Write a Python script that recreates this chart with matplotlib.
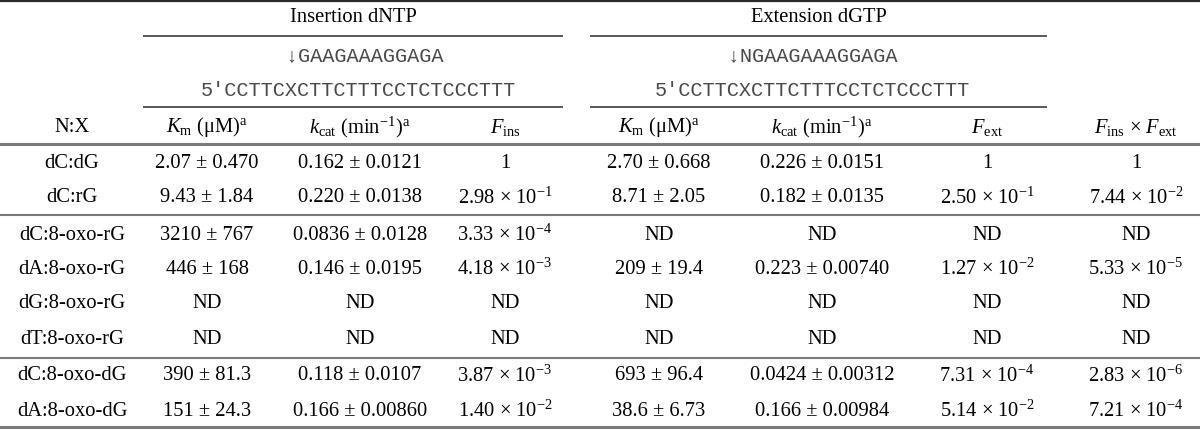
import matplotlib
matplotlib.use("Agg")
import matplotlib.pyplot as plt

plt.rcParams['font.family'] = ['Liberation Serif', 'DejaVu Serif']
plt.rcParams['mathtext.fontset'] = 'custom'
plt.rcParams['mathtext.rm'] = 'Liberation Serif'
plt.rcParams['mathtext.it'] = 'Liberation Serif:italic'
plt.rcParams['mathtext.default'] = 'rm'

# table contents
pairs = ['dC:dG', 'dC:rG', 'dC:8-oxo-rG', 'dA:8-oxo-rG', 'dG:8-oxo-rG',
         'dT:8-oxo-rG', 'dC:8-oxo-dG', 'dA:8-oxo-dG']
ins_km = ['2.07 ± 0.470', '9.43 ± 1.84', '3210 ± 767', '446 ± 168', 'ND', 'ND',
          '390 ± 81.3', '151 ± 24.3']
ins_kcat = ['0.162 ± 0.0121', '0.220 ± 0.0138', '0.0836 ± 0.0128', '0.146 ± 0.0195',
            'ND', 'ND', '0.118 ± 0.0107', '0.166 ± 0.00860']
f_ins = ['1', '2.98e-1', '3.33e-4', '4.18e-3', 'ND', 'ND', '3.87e-3', '1.40e-2']
ext_km = ['2.70 ± 0.668', '8.71 ± 2.05', 'ND', '209 ± 19.4', 'ND', 'ND',
          '693 ± 96.4', '38.6 ± 6.73']
ext_kcat = ['0.226 ± 0.0151', '0.182 ± 0.0135', 'ND', '0.223 ± 0.00740', 'ND', 'ND',
            '0.0424 ± 0.00312', '0.166 ± 0.00984']
f_ext = ['1', '2.50e-1', 'ND', '1.27e-2', 'ND', 'ND', '7.31e-4', '5.14e-2']
f_prod = ['1', '7.44e-2', 'ND', '5.33e-5', 'ND', 'ND', '2.83e-6', '7.21e-4']

headers = ['N:X', r'$\mathit{K}_{m}$ (μM)$^{a}$', r'$\mathit{k}_{cat}$ (min$^{-1}$)$^{a}$',
           r'$\mathit{F}_{ins}$', r'$\mathit{K}_{m}$ (μM)$^{a}$',
           r'$\mathit{k}_{cat}$ (min$^{-1}$)$^{a}$', r'$\mathit{F}_{ext}$',
           r'$\mathit{F}_{ins}$ × $\mathit{F}_{ext}$']
groups = ['Insertion dNTP', 'Extension dGTP']
primer_ins = '       ↓GAAGAAAGGAGA'
primer_ext = '      ↓NGAAGAAAGGAGA'
template = "5'CCTTCXCTTCTTTCCTCTCCCTTT"


def sci(s):
    """Turn '2.98e-1' into '2.98 × 10^-1' mathtext; leave other text alone."""
    if 'e' not in s:
        return s
    m, e = s.split('e')
    return m + ' × 10$^{' + e + '}$'


fig = plt.figure(figsize=(12, 4.29), dpi=100)
ax = fig.add_axes([0, 0, 1, 1])
ax.set_xlim(0, 1200)
ax.set_ylim(429, 0)
ax.axis('off')

fs = 14.8
col_x = [72, 207, 360, 505, 659, 822, 987, 1136]
row_y = [163, 198, 235, 269, 304, 340, 376, 411]
header_y = 127

# spanners
dark = '#2b2b2b'
grey = '#7a7a7a'
spans = [(143, 563), (590, 1047)]
for (x0, x1), g in zip(spans, groups):
    ax.text((x0 + x1) / 2, 18, g, ha='center', va='center', fontsize=fs)
    ax.plot([x0, x1], [36, 36], color=dark, lw=1.1, solid_capstyle='butt')
    ax.plot([x0, x1], [107, 107], color=dark, lw=1.1, solid_capstyle='butt')

mono = ['Liberation Mono', 'DejaVu Sans Mono']
for left, top in zip([201, 655], [primer_ins, primer_ext]):
    ax.text(left, 56, top, ha='left', va='center', fontsize=14.6, family=mono, color='#4a4a4a')
    ax.text(left, 90, template, ha='left', va='center', fontsize=14.6, family=mono, color='#4a4a4a')

# column headers
for x, h in zip(col_x, headers):
    ax.text(x, header_y, h, ha='center', va='center', fontsize=fs)

# body
columns = [pairs, ins_km, ins_kcat, f_ins, ext_km, ext_kcat, f_ext, f_prod]
for x, col in zip(col_x, columns):
    for y, v in zip(row_y, col):
        ax.text(x, y, sci(v), ha='center', va='center', fontsize=fs)

# rules
ax.plot([0, 1200], [1, 1], color=dark, lw=1.6)
ax.plot([0, 1200], [144, 144], color=grey, lw=2.2)
ax.plot([0, 1200], [215, 215], color=grey, lw=1.5)
ax.plot([0, 1200], [358, 358], color=grey, lw=1.5)
ax.plot([0, 1200], [427, 427], color=grey, lw=2.2)

fig.savefig('out.png', dpi=100)
